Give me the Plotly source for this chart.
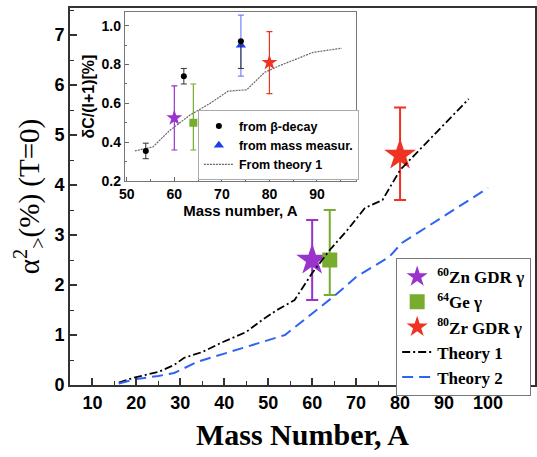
import plotly.graph_objects as go

# ---- main panel data ----
zn60_A = [60]; zn60_y = [2.5]; zn60_up = [0.8]; zn60_dn = [0.8]
ge64_A = [64]; ge64_y = [2.5]; ge64_up = [1.0]; ge64_dn = [0.7]
zr80_A = [80]; zr80_y = [4.6]; zr80_up = [0.95]; zr80_dn = [0.9]

theory1_A = [16, 20, 25, 28.6, 30.8, 35, 39.7, 45, 48.6, 52, 56, 60, 64, 68, 72, 76, 80, 85, 90, 95.6]
theory1_y = [0.05, 0.16, 0.26, 0.4, 0.54, 0.66, 0.86, 1.06, 1.3, 1.5, 1.7, 2.24, 2.7, 3.1, 3.54, 3.7, 4.3, 4.76, 5.22, 5.72]

theory2_A = [16, 20, 25, 28.6, 33.8, 41, 48.6, 53.8, 56.7, 61, 65.3, 70, 73.8, 77.5, 80.4, 85, 90, 95, 100]
theory2_y = [0.03, 0.12, 0.18, 0.24, 0.46, 0.66, 0.86, 1.0, 1.2, 1.5, 1.8, 2.16, 2.36, 2.56, 2.84, 3.1, 3.38, 3.66, 3.94]

# ---- inset data ----
beta_A = [54, 62, 74]; beta_y = [0.355, 0.74, 0.92]; beta_up = [0.04, 0.04, 0.0]; beta_dn = [0.04, 0.04, 0.14]
mass_A = [74]; mass_y = [0.90]; mass_up = [0.155]; mass_dn = [0.16]
in_zn_A = [60]; in_zn_y = [0.525]; in_zn_up = [0.165]; in_zn_dn = [0.165]
in_ge_A = [64]; in_ge_y = [0.50]; in_ge_up = [0.20]; in_ge_dn = [0.14]
in_zr_A = [80]; in_zr_y = [0.81]; in_zr_up = [0.16]; in_zr_dn = [0.16]
in_th_A = [51.7, 55.5, 59, 63.3, 67.5, 71.3, 75.2, 79, 82.2, 89.2, 95.2]
in_th_y = [0.355, 0.376, 0.46, 0.54, 0.60, 0.663, 0.67, 0.76, 0.795, 0.863, 0.884]

PURPLE = "#9933CC"
GREEN = "#77AC30"
RED = "#EE3322"
BLUE_T = "#1A3FF0"
BLUE_L = "#2F62F5"

fig = go.Figure()

def err(up, dn, color, th=1.8, w=5):
    return dict(type="data", symmetric=False, array=up, arrayminus=dn,
                color=color, thickness=th, width=w)

# main traces
fig.add_trace(go.Scatter(x=zn60_A, y=zn60_y, mode="markers", name="<sup>60</sup>Zn GDR γ",
                         marker=dict(symbol="star", size=24, color=PURPLE, line=dict(width=0)),
                         error_y=err(zn60_up, zn60_dn, PURPLE, 2, 6), legend="legend", legendrank=1))
fig.add_trace(go.Scatter(x=ge64_A, y=ge64_y, mode="markers", name="<sup>64</sup>Ge γ",
                         marker=dict(symbol="square", size=15, color=GREEN, line=dict(width=0)),
                         error_y=err(ge64_up, ge64_dn, GREEN, 2, 6), legend="legend", legendrank=2))
fig.add_trace(go.Scatter(x=zr80_A, y=zr80_y, mode="markers", name="<sup>80</sup>Zr GDR γ",
                         marker=dict(symbol="star", size=24, color=RED, line=dict(width=0)),
                         error_y=err(zr80_up, zr80_dn, RED, 2, 6), legend="legend", legendrank=3))
fig.add_trace(go.Scatter(x=theory1_A, y=theory1_y, mode="lines", name="Theory 1",
                         line=dict(color="black", width=1.8, dash="8px,3px,2px,3px"),
                         legend="legend", legendrank=4))
fig.add_trace(go.Scatter(x=theory2_A, y=theory2_y, mode="lines", name="Theory 2",
                         line=dict(color=BLUE_L, width=2, dash="11px,6px"),
                         legend="legend", legendrank=5))

# inset traces
fig.add_trace(go.Scatter(x=in_th_A, y=in_th_y, mode="lines", name="From theory 1",
                         line=dict(color="#666666", width=1.2, dash="2px,1px"),
                         xaxis="x2", yaxis="y2", legend="legend2", legendrank=3))
fig.add_trace(go.Scatter(x=in_zn_A, y=in_zn_y, mode="markers", showlegend=False,
                         marker=dict(symbol="star", size=12, color=PURPLE),
                         error_y=err(in_zn_up, in_zn_dn, PURPLE, 1.2, 3),
                         xaxis="x2", yaxis="y2"))
fig.add_trace(go.Scatter(x=in_ge_A, y=in_ge_y, mode="markers", showlegend=False,
                         marker=dict(symbol="square", size=8, color=GREEN),
                         error_y=err(in_ge_up, in_ge_dn, GREEN, 1.2, 3),
                         xaxis="x2", yaxis="y2"))
fig.add_trace(go.Scatter(x=in_zr_A, y=in_zr_y, mode="markers", showlegend=False,
                         marker=dict(symbol="star", size=12, color=RED),
                         error_y=err(in_zr_up, in_zr_dn, RED, 1.2, 3),
                         xaxis="x2", yaxis="y2"))
fig.add_trace(go.Scatter(x=mass_A, y=mass_y, mode="markers", name="from mass measur.",
                         marker=dict(symbol="triangle-up", size=9, color=BLUE_T),
                         error_y=err(mass_up, mass_dn, "#6F86F5", 1.2, 3),
                         xaxis="x2", yaxis="y2", legend="legend2", legendrank=2))
fig.add_trace(go.Scatter(x=beta_A, y=beta_y, mode="markers", name="from β-decay",
                         marker=dict(symbol="circle", size=6, color="black"),
                         error_y=err(beta_up, beta_dn, "#333333", 1.0, 3),
                         xaxis="x2", yaxis="y2", legend="legend2", legendrank=1))

sans = "Liberation Sans, Arial, sans-serif"
serif = "Liberation Serif, Times New Roman, serif"

fig.update_layout(
    width=537, height=457,
    margin=dict(l=70, r=2, t=8, b=72),
    paper_bgcolor="white", plot_bgcolor="white",
    showlegend=True,
    xaxis=dict(range=[4.9, 110.7], domain=[0, 1], tickmode="array", automargin=False,
               tickvals=[10, 20, 30, 40, 50, 60, 70, 80, 90, 100],
               ticks="inside", ticklen=7, tickwidth=1.5, tickcolor="#333",
               minor=dict(tickvals=[5, 15, 25, 35, 45, 55, 65, 75, 85, 95, 105], ticks="inside",
                          ticklen=4, tickwidth=1.2, tickcolor="#333"),
               showline=True, linecolor="#333", linewidth=2, mirror=True, showgrid=False, zeroline=False,
               tickfont=dict(family=sans, size=18, color="black", weight="bold"),
               title=dict(text="Mass Number, A", standoff=12,
                          font=dict(family=serif, size=30, color="black", weight="bold"))),
    yaxis=dict(range=[0, 7.54], domain=[0, 1], tickmode="array", automargin=False,
               tickvals=[0, 1, 2, 3, 4, 5, 6, 7],
               ticks="inside", ticklen=7, tickwidth=1.5, tickcolor="#333",
               minor=dict(tickvals=[0.5, 1.5, 2.5, 3.5, 4.5, 5.5, 6.5, 7.5], ticks="inside",
                          ticklen=4, tickwidth=1.2, tickcolor="#333"),
               showline=True, linecolor="#333", linewidth=2, mirror=True, showgrid=False, zeroline=False,
               tickfont=dict(family=sans, size=18, color="black", weight="bold"),
               title=dict(text="α<sup>2</sup><sub>></sub>(%) (T=0)", standoff=6,
                          font=dict(family=serif, size=29, color="black"))),
    xaxis2=dict(range=[49.6, 98.2], domain=[0.118, 0.615], anchor="y2", automargin=False,
                tickmode="array", tickvals=[50, 60, 70, 80, 90],
                ticks="inside", ticklen=4, tickwidth=1, tickcolor="#666",
                minor=dict(tickvals=[55, 65, 75, 85, 95], ticks="inside", ticklen=2, tickcolor="#666"),
                showline=True, linecolor="#777", linewidth=1.2, mirror=True, showgrid=False, zeroline=False,
                tickfont=dict(family=sans, size=14, color="black", weight="bold"),
                title=dict(text="Mass number, A", standoff=2,
                           font=dict(family=sans, size=15, color="black", weight="bold"))),
    yaxis2=dict(range=[0.2, 1.07], domain=[0.541, 0.989], anchor="x2", automargin=False,
                tickmode="array", tickvals=[0.2, 0.4, 0.6, 0.8, 1.0], ticktext=["0.2", "0.4", "0.6", "0.8", "1.0"],
                ticks="inside", ticklen=4, tickwidth=1, tickcolor="#666",
                minor=dict(tickvals=[0.3, 0.5, 0.7, 0.9], ticks="inside", ticklen=2, tickcolor="#666"),
                showline=True, linecolor="#777", linewidth=1.2, mirror=True, showgrid=False, zeroline=False,
                tickfont=dict(family=sans, size=14, color="black", weight="bold"),
                title=dict(text="δC/(I+1)[%]", standoff=2,
                           font=dict(family=sans, size=16, color="black", weight="bold"))),
    legend=dict(x=0.701, y=0.337, xanchor="left", yanchor="top",
                bgcolor="white", bordercolor="#777", borderwidth=1.2,
                font=dict(family=serif, size=17, color="black", weight="bold"),
                itemwidth=30, tracegroupgap=0),
    legend2=dict(x=0.275, y=0.543, xanchor="left", yanchor="bottom",
                 bgcolor="white", bordercolor="#aaa", borderwidth=1,
                 font=dict(family=sans, size=12.5, color="black", weight="bold"),
                 itemwidth=30, tracegroupgap=0),
)

fig.write_html("out.html", config={"displayModeBar": False},
               post_script="document.body.style.margin='0px';document.body.style.padding='0px';document.documentElement.style.overflow='hidden';")
